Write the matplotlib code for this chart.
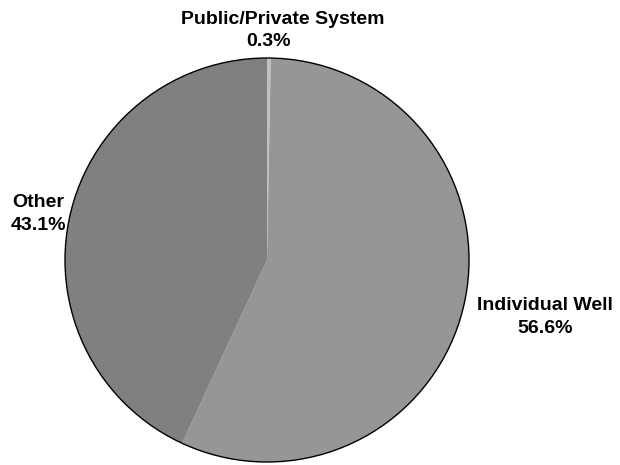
import matplotlib.pyplot as plt
from matplotlib.patches import Circle

plt.rcParams['font.family'] = ['Liberation Sans', 'DejaVu Sans']

# Water supply source shares (percent)
sources = ["Public/Private System", "Individual Well", "Other"]
shares = [0.3, 56.6, 43.1]
colors = ["#c0c0c0", "#969696", "#808080"]

# label anchors (name line, value line), in pie-radius units
name_pos = [(0.08, 1.19), (1.375, -0.225), (-1.13, 0.285)]
value_pos = [(0.007, 1.08), (1.375, -0.34), (-1.13, 0.17)]

fig = plt.figure(figsize=(6.2, 4.65), dpi=100)
ax = fig.add_axes([0, 0, 1, 1])

r_px = 202.0
cx, cy = 267.0, 260.0

ax.pie(shares, colors=colors, startangle=90, counterclock=False,
       radius=1.0, wedgeprops=dict(linewidth=0))
ax.add_patch(Circle((0, 0), 1.0, fill=False, edgecolor="black", linewidth=1.0))

for name, val, npos, vpos in zip(sources, shares, name_pos, value_pos):
    ax.text(*npos, name, ha="center", va="center", fontsize=14, fontweight="bold")
    ax.text(*vpos, f"{val}%", ha="center", va="center", fontsize=14, fontweight="bold")

ax.set_aspect("auto")
ax.set_xlim(-cx / r_px, (620 - cx) / r_px)
ax.set_ylim(-(465 - cy) / r_px, cy / r_px)
ax.axis("off")

fig.savefig("out.png", dpi=100)
